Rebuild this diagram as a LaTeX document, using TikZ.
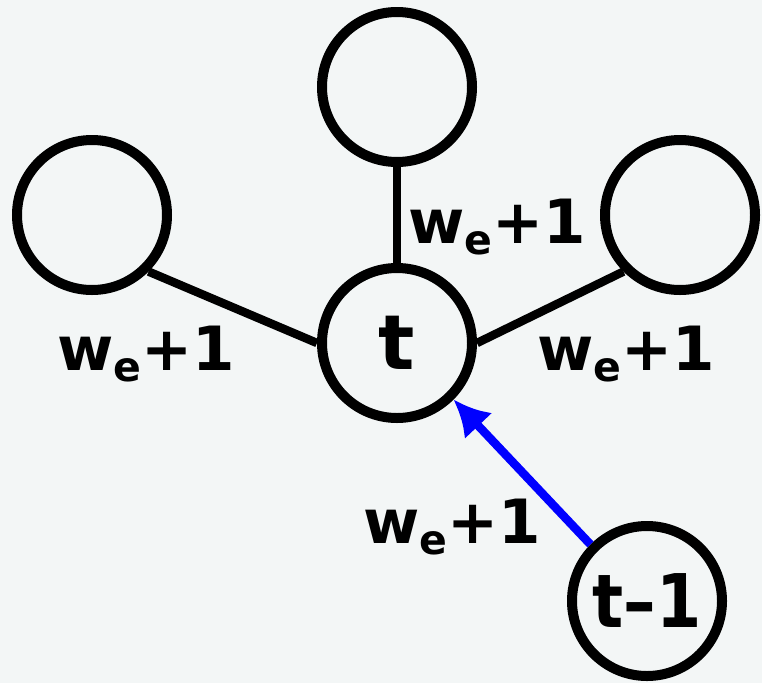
\documentclass[tikz,border=0pt]{standalone}
\usepackage{fontspec}
\setmainfont{DejaVu Sans}
\usetikzlibrary{arrows.meta}
\definecolor{paper}{RGB}{243,246,246}
\definecolor{linkblue}{RGB}{0,0,255}
% edge weight: w with subscript e, plus one
\newcommand{\wlabel}{w\raisebox{-11pt}{\fontsize{41}{41}\selectfont e}+1}
\begin{document}
\begin{tikzpicture}[x=1pt,y=-1pt,
  vertex/.style={circle,draw=black,line width=10pt,minimum size=150pt,
    inner sep=0pt,font=\bfseries\fontsize{76}{76}\selectfont},
  edge/.style={line width=8.5pt,draw=black},
  link/.style={line width=8.5pt,draw=linkblue,
    -{Latex[length=36pt,width=38pt]}},
  weight/.style={anchor=base west,inner sep=0pt,
    font=\bfseries\fontsize{61}{61}\selectfont}]
\fill[paper] (0,0) rectangle (762,683);
\useasboundingbox (0,0) rectangle (762,683);

% vertices
\node[vertex] (up)    at (397,87)  {};
\node[vertex] (left)  at (92,215)  {};
\node[vertex] (right) at (680,215) {};
\node[vertex] (t)     at (397,343) {t};
\node[vertex,font=\bfseries\fontsize{74}{74}\selectfont] (prev) at (647,601)
  {\scalebox{0.88}[1]{t--1}};

% undirected edges around t
\draw[edge] (up.south) -- (t.north);
\draw[edge] (left.south east) -- (t.west);
\draw[edge] (right.south west) -- (t.east);

% directed edge from the previous vertex
\draw[link] (prev.north west) -- (t.south east);

% weights
\node[weight] (wup)    at (408,243) {\wlabel};
\node[weight] (wleft)  at (57,370)  {\wlabel};
\node[weight] (wright) at (537,370) {\wlabel};
\node[weight] (wprev)  at (363,543) {\wlabel};
\end{tikzpicture}
\end{document}
